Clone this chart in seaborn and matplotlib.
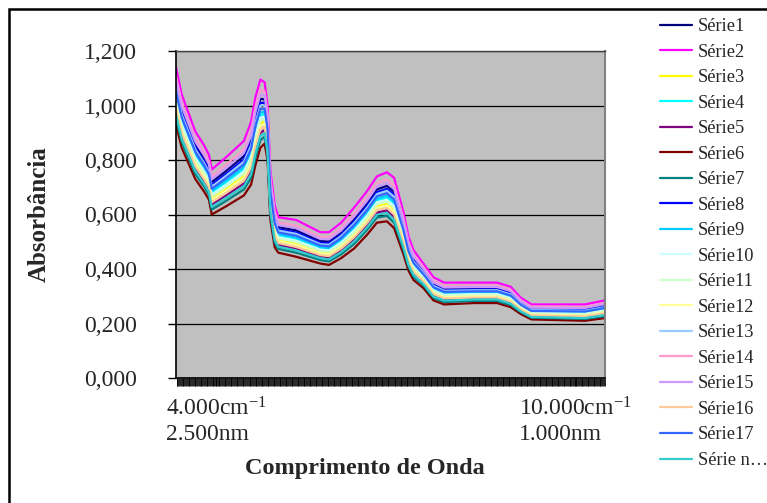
import matplotlib
matplotlib.use("Agg")
import matplotlib.pyplot as plt
import pandas as pd
import seaborn as sns
from matplotlib.ticker import MultipleLocator, NullLocator
from matplotlib.patches import Rectangle

# ---------------- data ----------------
wavenumber = [4000, 4080, 4270, 4390, 4460, 4500, 4700, 4950, 5050, 5110, 5180, 5240, 5280,
              5320, 5380, 5430, 5680, 6020, 6140, 6310, 6490, 6670, 6810, 6950, 7050, 7180,
              7250, 7320, 7460, 7600, 7750, 8170, 8490, 8680, 8820, 8970, 9720, 10000]

serie1 = [1.081, 0.985, 0.856, 0.807, 0.774, 0.719, 0.760, 0.814, 0.876, 0.960, 1.025, 1.022, 0.944,
          0.710, 0.592, 0.554, 0.542, 0.503, 0.501, 0.534, 0.583, 0.640, 0.692, 0.705, 0.683, 0.567,
          0.485, 0.439, 0.395, 0.346, 0.328, 0.329, 0.329, 0.314, 0.278, 0.255, 0.253, 0.267]
serie2 = [1.140, 1.040, 0.905, 0.855, 0.820, 0.765, 0.810, 0.870, 0.940, 1.030, 1.095, 1.085, 1.000,
          0.760, 0.635, 0.590, 0.580, 0.535, 0.535, 0.570, 0.625, 0.685, 0.740, 0.755, 0.735, 0.610,
          0.520, 0.470, 0.420, 0.370, 0.350, 0.350, 0.350, 0.335, 0.295, 0.270, 0.270, 0.285]
serie3 = [1.006, 0.915, 0.793, 0.746, 0.714, 0.659, 0.695, 0.742, 0.793, 0.870, 0.935, 0.941, 0.872,
          0.645, 0.536, 0.507, 0.494, 0.461, 0.458, 0.487, 0.529, 0.583, 0.631, 0.640, 0.617, 0.511,
          0.440, 0.400, 0.362, 0.316, 0.299, 0.302, 0.302, 0.287, 0.257, 0.235, 0.232, 0.243]
serie4 = [1.031, 0.939, 0.814, 0.767, 0.734, 0.679, 0.716, 0.766, 0.820, 0.900, 0.965, 0.968, 0.896,
          0.666, 0.554, 0.522, 0.510, 0.475, 0.473, 0.502, 0.547, 0.602, 0.652, 0.661, 0.639, 0.529,
          0.455, 0.413, 0.373, 0.326, 0.308, 0.311, 0.311, 0.296, 0.264, 0.241, 0.239, 0.251]
serie5 = [0.976, 0.888, 0.769, 0.722, 0.691, 0.636, 0.670, 0.714, 0.761, 0.835, 0.900, 0.910, 0.844,
          0.620, 0.514, 0.489, 0.475, 0.445, 0.441, 0.469, 0.508, 0.560, 0.607, 0.615, 0.591, 0.489,
          0.423, 0.384, 0.350, 0.304, 0.288, 0.292, 0.292, 0.277, 0.248, 0.227, 0.223, 0.234]
serie6 = [0.930, 0.845, 0.730, 0.685, 0.655, 0.600, 0.630, 0.670, 0.710, 0.780, 0.845, 0.860, 0.800,
          0.580, 0.480, 0.460, 0.445, 0.420, 0.415, 0.440, 0.475, 0.525, 0.570, 0.575, 0.550, 0.455,
          0.395, 0.360, 0.330, 0.285, 0.270, 0.275, 0.275, 0.260, 0.235, 0.215, 0.210, 0.220]
serie7 = [0.953, 0.866, 0.749, 0.704, 0.673, 0.618, 0.650, 0.692, 0.735, 0.808, 0.873, 0.885, 0.822,
          0.600, 0.497, 0.474, 0.460, 0.433, 0.428, 0.454, 0.492, 0.543, 0.589, 0.595, 0.570, 0.472,
          0.409, 0.372, 0.340, 0.294, 0.279, 0.283, 0.283, 0.268, 0.242, 0.221, 0.217, 0.227]
serie8 = [1.069, 0.974, 0.846, 0.797, 0.764, 0.709, 0.749, 0.802, 0.862, 0.945, 1.010, 1.009, 0.932,
          0.699, 0.582, 0.546, 0.534, 0.496, 0.494, 0.526, 0.574, 0.631, 0.682, 0.694, 0.672, 0.557,
          0.478, 0.433, 0.389, 0.341, 0.323, 0.325, 0.325, 0.310, 0.275, 0.251, 0.250, 0.263]
serie9 = [1.039, 0.946, 0.821, 0.773, 0.741, 0.686, 0.724, 0.774, 0.830, 0.910, 0.975, 0.977, 0.904,
          0.674, 0.561, 0.528, 0.515, 0.480, 0.477, 0.508, 0.553, 0.608, 0.658, 0.669, 0.646, 0.536,
          0.460, 0.417, 0.377, 0.329, 0.312, 0.314, 0.314, 0.299, 0.266, 0.244, 0.241, 0.254]
serie10 = [1.022, 0.931, 0.807, 0.760, 0.728, 0.673, 0.709, 0.758, 0.811, 0.890, 0.955, 0.959, 0.888,
           0.659, 0.548, 0.517, 0.504, 0.471, 0.468, 0.497, 0.541, 0.595, 0.645, 0.654, 0.631, 0.523,
           0.450, 0.408, 0.370, 0.322, 0.305, 0.308, 0.308, 0.293, 0.261, 0.239, 0.236, 0.249]
serie11 = [1.014, 0.923, 0.800, 0.753, 0.721, 0.666, 0.702, 0.750, 0.802, 0.880, 0.945, 0.950, 0.880,
           0.652, 0.542, 0.512, 0.499, 0.466, 0.463, 0.492, 0.535, 0.589, 0.638, 0.647, 0.624, 0.517,
           0.445, 0.404, 0.366, 0.319, 0.302, 0.305, 0.305, 0.290, 0.259, 0.237, 0.234, 0.246]
serie12 = [0.997, 0.907, 0.786, 0.739, 0.708, 0.653, 0.688, 0.734, 0.784, 0.860, 0.925, 0.932, 0.864,
           0.638, 0.530, 0.502, 0.488, 0.457, 0.453, 0.482, 0.523, 0.576, 0.624, 0.633, 0.609, 0.505,
           0.435, 0.395, 0.359, 0.312, 0.296, 0.299, 0.299, 0.284, 0.254, 0.233, 0.229, 0.241]
serie13 = [1.060, 0.966, 0.839, 0.790, 0.757, 0.702, 0.742, 0.794, 0.853, 0.935, 1.000, 1.000, 0.924,
           0.692, 0.576, 0.541, 0.529, 0.491, 0.489, 0.521, 0.568, 0.624, 0.675, 0.687, 0.665, 0.551,
           0.473, 0.428, 0.386, 0.338, 0.320, 0.322, 0.322, 0.307, 0.272, 0.249, 0.247, 0.260]
serie14 = [1.109, 1.011, 0.879, 0.830, 0.795, 0.740, 0.783, 0.840, 0.906, 0.993, 1.058, 1.051, 0.970,
           0.733, 0.612, 0.571, 0.560, 0.518, 0.517, 0.551, 0.603, 0.661, 0.715, 0.728, 0.707, 0.587,
           0.501, 0.454, 0.407, 0.357, 0.338, 0.339, 0.339, 0.324, 0.286, 0.262, 0.261, 0.275]
serie15 = [1.094, 0.997, 0.867, 0.818, 0.784, 0.729, 0.770, 0.826, 0.889, 0.975, 1.040, 1.036, 0.956,
           0.720, 0.601, 0.561, 0.550, 0.510, 0.509, 0.541, 0.592, 0.650, 0.703, 0.715, 0.694, 0.576,
           0.493, 0.446, 0.400, 0.351, 0.332, 0.334, 0.334, 0.319, 0.282, 0.258, 0.257, 0.271]
serie16 = [0.987, 0.898, 0.777, 0.731, 0.700, 0.645, 0.679, 0.724, 0.772, 0.848, 0.913, 0.921, 0.854,
           0.629, 0.522, 0.495, 0.481, 0.451, 0.447, 0.475, 0.516, 0.568, 0.616, 0.624, 0.600, 0.497,
           0.429, 0.390, 0.354, 0.308, 0.292, 0.295, 0.295, 0.280, 0.251, 0.230, 0.226, 0.238]
serie17 = [1.050, 0.956, 0.830, 0.782, 0.749, 0.694, 0.733, 0.784, 0.841, 0.923, 0.988, 0.988, 0.914,
           0.683, 0.568, 0.534, 0.522, 0.486, 0.483, 0.514, 0.561, 0.616, 0.667, 0.678, 0.655, 0.543,
           0.466, 0.423, 0.381, 0.333, 0.316, 0.318, 0.318, 0.303, 0.269, 0.246, 0.244, 0.257]
serie18 = [0.966, 0.878, 0.760, 0.714, 0.683, 0.628, 0.661, 0.704, 0.749, 0.823, 0.888, 0.898, 0.834,
           0.611, 0.506, 0.482, 0.468, 0.440, 0.435, 0.462, 0.501, 0.552, 0.599, 0.606, 0.581, 0.481,
           0.416, 0.379, 0.345, 0.299, 0.284, 0.288, 0.288, 0.273, 0.245, 0.224, 0.220, 0.231]

series_names = ["Série1", "Série2", "Série3", "Série4", "Série5", "Série6", "Série7", "Série8",
                "Série9", "Série10", "Série11", "Série12", "Série13", "Série14", "Série15",
                "Série16", "Série17", "Série n…"]
series_values = [serie1, serie2, serie3, serie4, serie5, serie6, serie7, serie8, serie9, serie10,
                 serie11, serie12, serie13, serie14, serie15, serie16, serie17, serie18]
colors = ["#000080", "#FF00FF", "#FFFF00", "#00FFFF", "#800080", "#800000", "#008080", "#0000FF",
          "#00CCFF", "#CCFFFF", "#CCFFCC", "#FFFF99", "#99CCFF", "#FF99CC", "#CC99FF", "#FFCC99",
          "#3366FF", "#33CCCC"]

ytick_values = [0.0, 0.2, 0.4, 0.6, 0.8, 1.0, 1.2]
ytick_labels = ["0,000", "0,200", "0,400", "0,600", "0,800", "1,000", "1,200"]
xtick_values = [4559, 9580]
xtick_labels = ["4.000cm$^{-1}$\n2.500nm", "10.000cm$^{-1}$\n1.000nm"]
x_label = "Comprimento de Onda"
y_label = "Absorbância"

# ---------------- style ----------------
sns.set_style("white")
plt.rcParams["font.family"] = ["Liberation Serif", "DejaVu Serif"]
plt.rcParams["mathtext.fontset"] = "custom"
plt.rcParams["mathtext.rm"] = "Liberation Serif"
plt.rcParams["mathtext.it"] = "Liberation Serif:italic"
plt.rcParams["mathtext.bf"] = "Liberation Serif:bold"

rows = []
for name, vals in zip(series_names, series_values):
    for w, v in zip(wavenumber, vals):
        rows.append((name, w, v))
df = pd.DataFrame(rows, columns=["serie", "wn", "absorb"])

W, H = 767, 503
fig = plt.figure(figsize=(W / 100, H / 100), dpi=100)
fig.patch.set_facecolor("white")
ax = fig.add_axes([176 / W, 1 - 378 / H, 429 / W, 327 / H])
ax.set_facecolor("#C0C0C0")

sns.lineplot(data=df, x="wn", y="absorb", hue="serie", hue_order=series_names,
             palette=colors, estimator=None, sort=False, linewidth=1.6, ax=ax)

ax.set_xlim(4000, 10000)
ax.set_ylim(0, 1.2)

# gridlines
ax.set_yticks(ytick_values)
ax.set_yticklabels(ytick_labels, fontsize=17)
ax.yaxis.grid(True, color="black", linewidth=0.9)
ax.xaxis.grid(False)
ax.set_axisbelow(True)
ax.yaxis.set_minor_locator(NullLocator())
ax.tick_params(axis="y", which="major", direction="out", length=6, width=1,
               color="black", pad=22, left=True)

ax.set_xticks(xtick_values)
ax.set_xticklabels(xtick_labels, fontsize=17, linespacing=1.2)
for lbl in ax.get_xticklabels():
    lbl.set_multialignment("left")
ax.xaxis.set_minor_locator(MultipleLocator(12))
ax.tick_params(axis="x", which="both", direction="out", length=6, width=0.6,
               color="black", pad=8, bottom=True)

for side in ["left", "bottom"]:
    ax.spines[side].set_color("black")
    ax.spines[side].set_linewidth(1.2)
ax.spines["top"].set_color("#404040")
ax.spines["top"].set_linewidth(1.0)
ax.spines["right"].set_color("#808080")
ax.spines["right"].set_linewidth(1.5)

ax.set_xlabel(x_label, fontsize=17.5, fontweight="bold")
ax.xaxis.set_label_coords(0.4406, -0.245)
ax.set_ylabel(y_label, fontsize=18, fontweight="bold")
ax.yaxis.set_label_coords(-0.292, 0.5)

# legend
handles, labels = ax.get_legend_handles_labels()
ax.get_legend().remove()
leg = fig.legend(handles, labels, loc="upper left", bbox_to_anchor=(660 / W, 1 - 18 / H),
                 frameon=False, fontsize=13.2, handlelength=1.75, handletextpad=0.3,
                 labelspacing=0.465, borderpad=0, borderaxespad=0)
for h in leg.get_lines():
    h.set_linewidth(1.6)

# outer chart frame
fig.patches.append(Rectangle((9 / W, -0.2), 1.5, 1.2 - 9 / H, transform=fig.transFigure,
                             fill=False, edgecolor="black", linewidth=1.8, zorder=10))

fig.savefig("out.png", dpi=100, facecolor="white")
